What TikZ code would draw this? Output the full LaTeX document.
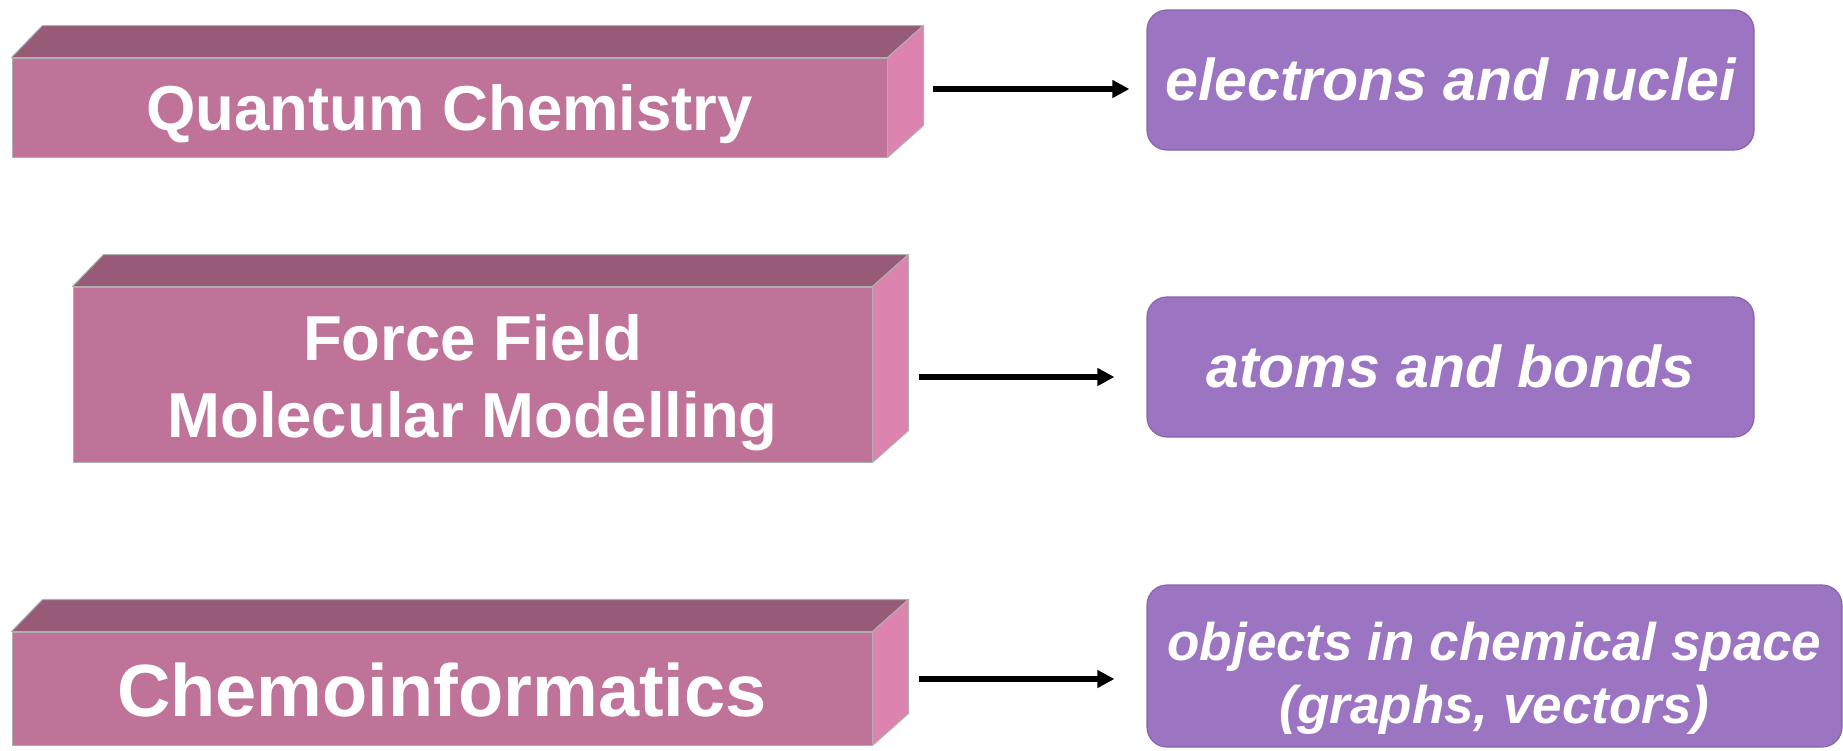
\documentclass[tikz,border=0pt]{standalone}
\usepackage{fontspec}
\setmainfont{Liberation Sans}
\usetikzlibrary{arrows.meta}
\definecolor{frontc}{RGB}{192,115,152}
\definecolor{topc}{RGB}{151,91,119}
\definecolor{sidec}{RGB}{221,131,176}
\definecolor{purp}{RGB}{156,117,194}
\definecolor{purpedge}{RGB}{136,100,172}
\definecolor{edgegray}{RGB}{175,175,175}
\tikzset{
  frontface/.style={rectangle, fill=frontc, draw=edgegray, line width=1pt, inner sep=0pt},
  topface/.style={fill=topc, draw=edgegray, line width=1pt, line join=round},
  sideface/.style={fill=sidec, draw=edgegray, line width=1pt, line join=round},
  pbox/.style={rectangle, rounded corners=20pt, fill=purp, draw=purpedge, line width=1.2pt, inner sep=0pt},
  ltxt/.style={anchor=base, text=white, font=\bfseries, inner sep=0pt},
  ptxt/.style={anchor=base, text=white, font=\bfseries\itshape, inner sep=0pt},
  arr/.style={line width=6pt, -{Triangle[length=17pt,width=17pt]}},
}
\newcommand{\blockfaces}[1]{%
  \path[topface] (#1.north west) -- ++(31,-32) -- ([shift={(36,-32)}]#1.north east) -- (#1.north east) -- cycle;
  \path[sideface] (#1.north east) -- ++(36,-32) -- ([shift={(36,-32)}]#1.south east) -- (#1.south east) -- cycle;
}
\begin{document}
\begin{tikzpicture}[x=1pt,y=-1pt]
\useasboundingbox (0,0) rectangle (1843,750);
% left blocks
\node[frontface, minimum width=875pt, minimum height=99pt] (qc) at (449.5,107.5) {};
\blockfaces{qc}
\node[frontface, minimum width=799pt, minimum height=175pt] (ff) at (472.5,374.5) {};
\blockfaces{ff}
\node[frontface, minimum width=860pt, minimum height=113pt] (ci) at (442,688.5) {};
\blockfaces{ci}
% left texts
\node[ltxt, font=\bfseries\fontsize{63.5}{76}\selectfont] (qct) at (449.5,130) {Quantum Chemistry};
\node[ltxt, font=\bfseries\fontsize{63.5}{76}\selectfont] (fft1) at (472.5,360) {Force Field};
\node[ltxt, font=\bfseries\fontsize{63.5}{76}\selectfont] (fft2) at (472.5,437) {Molecular Modelling};
\node[ltxt, font=\bfseries\fontsize{74}{88}\selectfont] (cit) at (442,716) {Chemoinformatics};
% right boxes
\node[pbox, minimum width=607pt, minimum height=140pt] (en) at (1450.5,80) {};
\node[pbox, minimum width=607pt, minimum height=140pt] (ab) at (1450.5,367) {};
\node[pbox, minimum width=695pt, minimum height=162pt] (oc) at (1494.5,666) {};
\node[ptxt, font=\bfseries\itshape\fontsize{59}{70}\selectfont] (ent) at (1450.5,100) {electrons and nuclei};
\node[ptxt, font=\bfseries\itshape\fontsize{59}{70}\selectfont] (abt) at (1450.5,387) {atoms and bonds};
\node[ptxt, font=\bfseries\itshape\fontsize{53}{63}\selectfont] (oct1) at (1494.5,660) {objects in chemical space};
\node[ptxt, font=\bfseries\itshape\fontsize{53}{63}\selectfont] (oct2) at (1494.5,723) {(graphs, vectors)};
% arrows
\coordinate (s1) at (933,89);
\coordinate (s2) at (919,377);
\coordinate (s3) at (919,679);
\draw[arr, shorten >=17pt] (s1) -- (s1 -| en.west);
\draw[arr, shorten >=32pt] (s2) -- (s2 -| ab.west);
\draw[arr, shorten >=32pt] (s3) -- (s3 -| oc.west);
\end{tikzpicture}
\end{document}
